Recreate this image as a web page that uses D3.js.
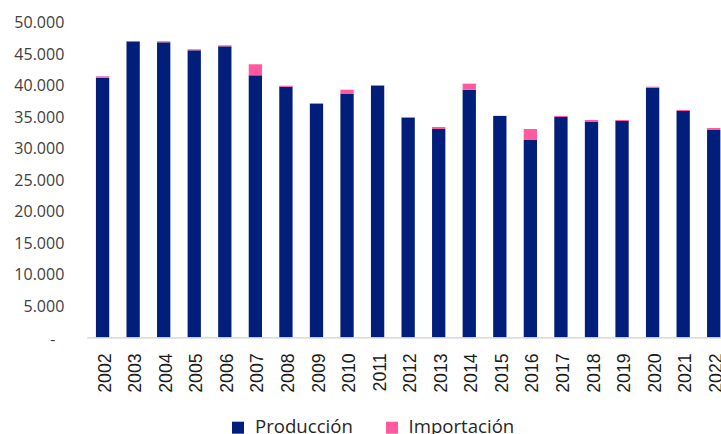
<!DOCTYPE html>
<html>
<head>
<meta charset="utf-8">
<script src="https://cdn.jsdelivr.net/npm/d3@7"></script>
<style>
  html, body { margin: 0; padding: 0; background: #fff; overflow: hidden; }
  svg { display: block; }
</style>
</head>
<body>
<svg id="chart" width="721" height="434"></svg>
<script>
const years = ["2002","2003","2004","2005","2006","2007","2008","2009","2010","2011","2012","2013","2014","2015","2016","2017","2018","2019","2020","2021","2022"];
const produccion = [41250,47000,46870,45600,46230,41630,39820,37120,38660,40000,34900,33100,39340,35170,31350,35010,34210,34370,39660,35960,32940];
const importacion = [220,50,160,160,160,1750,160,110,680,40,110,320,960,30,1750,160,320,160,160,160,320];
const yTicks = [0,5000,10000,15000,20000,25000,30000,35000,40000,45000,50000];
const seriesNames = ["Producción","Importación"];
const colors = ["#001E7A","#FF5A9F"];

const svg = d3.select("#chart");
const x = d3.scaleBand().domain(years).range([87.3, 729]).paddingInner(0.565).paddingOuter(0.2825);
const y = d3.scaleLinear().domain([0, 50000]).range([337.4, 22.6]);

const loc = d3.formatLocale({decimal: ",", thousands: ".", grouping: [3], currency: ["", ""]});
const fmt = loc.format(",d");

// y axis labels
const yAxis = d3.axisLeft(y).tickValues(yTicks).tickSize(0).tickPadding(23)
  .tickFormat(d => d === 0 ? "-" : fmt(d));
const gy = svg.append("g").attr("transform", "translate(87.3,0)").call(yAxis);
gy.select(".domain").remove();
gy.selectAll("text")
  .attr("font-family", "'Open Sans', sans-serif")
  .attr("font-size", "16px")
  .attr("fill", "#404040");
gy.selectAll(".tick").filter(d => d === 0).select("text").attr("x", -32).attr("dy", "0.45em");

// stacked bars
const data = years.map((yr, i) => ({year: yr, p: produccion[i], m: importacion[i]}));
const stack = d3.stack().keys(["p","m"])(data);
svg.append("g").selectAll("g").data(stack).join("g")
  .attr("fill", (d, i) => colors[i])
  .selectAll("rect").data(d => d).join("rect")
  .attr("x", d => x(d.data.year))
  .attr("width", x.bandwidth())
  .attr("y", d => y(d[1]))
  .attr("height", d => y(d[0]) - y(d[1]));

// x axis line
svg.append("line")
  .attr("x1", 87.3).attr("x2", 729)
  .attr("y1", 337.9).attr("y2", 337.9)
  .attr("stroke", "#d0d0d0").attr("stroke-width", 1.2);

// x labels
const xAxis = d3.axisBottom(x).tickSize(0).tickPadding(0);
const gx = svg.append("g").attr("transform", "translate(0,337.4)").call(xAxis);
gx.select(".domain").remove();
gx.selectAll("text")
  .attr("font-family", "'Liberation Sans', Arial, sans-serif")
  .attr("font-size", "17.7px")
  .attr("fill", "#1a1a1a")
  .attr("text-anchor", "end")
  .attr("y", 0)
  .attr("dy", "0.36em")
  .attr("transform", "translate(1.7,16) rotate(-90)");

// legend
const leg = svg.append("g");
const legX = [232, 386];
const legTextX = [255, 408.5];
seriesNames.forEach((name, i) => {
  leg.append("rect").attr("x", legX[i]).attr("y", 421.7).attr("width", 12).attr("height", 12).attr("fill", colors[i]);
  leg.append("text").attr("x", legTextX[i]).attr("y", 432.6)
    .attr("font-family", "'Open Sans', sans-serif").attr("font-size", "18.6px")
    .attr("fill", "#262626").text(name);
});
</script>
</body>
</html>
